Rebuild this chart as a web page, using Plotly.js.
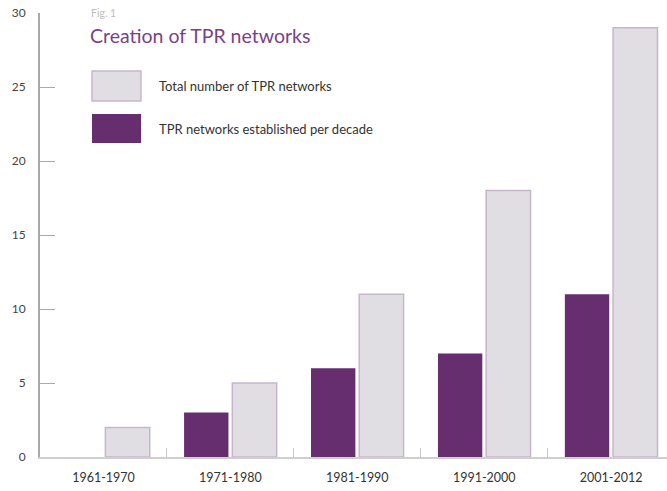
<!DOCTYPE html>
<html>
<head>
<meta charset="utf-8">
<script src="https://cdn.plot.ly/plotly-3.0.1.min.js"></script>
<style>html,body{margin:0;padding:0;background:#fff;}#chart{width:667px;height:491px;}</style>
</head>
<body>
<div id="chart"></div>
<script>
const decades = ["1961-1970", "1971-1980", "1981-1990", "1991-2000", "2001-2012"];
const perDecade = [0, 3, 6, 7, 11];
const totalNetworks = [2, 5, 11, 18, 29];
const yTicks = [0, 5, 10, 15, 20, 25, 30];

const purple = "#662d6f";
const grey = "#e1dee3";
const greyLine = "#c7b6cb";
const font = "Lato, 'Open Sans', sans-serif";

const data = [
  {type: "bar", x: decades, y: perDecade, name: "TPR networks established per decade",
   marker: {color: purple, line: {width: 0}}, hoverinfo: "x+y"},
  {type: "bar", x: decades, y: totalNetworks, name: "Total number of TPR networks",
   marker: {color: grey, line: {color: greyLine, width: 1.5}}, hoverinfo: "x+y"}
];

// pixel -> paper helpers for legend decoration
const L = 40, R = 0, T = 13, B = 34, W = 667, H = 491;
const pw = W - L - R, ph = H - T - B;
const px = v => (v - L) / pw;
const py = v => (H - B - v) / ph;

const layout = {
  width: W, height: H,
  margin: {l: L, r: R, t: T, b: B, pad: 0},
  paper_bgcolor: "#ffffff", plot_bgcolor: "#ffffff",
  showlegend: false,
  barmode: "group", bargap: 0.24, bargroupgap: 0.08,
  font: {family: font, color: "#333"},
  xaxis: {
    type: "category", range: [-0.5, 4.44],
    showline: true, linecolor: "#cfcfcf", linewidth: 2,
    ticks: "inside", tickson: "boundaries", ticklen: 9, tickcolor: "#c8c8c8", tickwidth: 1,
    tickfont: {family: font, size: 12.5, color: "#333"},
    ticklabelstandoff: 8,
    showgrid: false, zeroline: false, fixedrange: true
  },
  yaxis: {
    range: [0, 30], tickvals: yTicks, ticktext: yTicks.map(String),
    showline: true, linecolor: "#a9a9a9", linewidth: 2,
    ticks: "inside", ticklen: 15, tickcolor: "#aaaaaa", tickwidth: 1,
    tickfont: {family: font, size: 12, color: "#444"},
    ticklabelstandoff: 10,
    showgrid: false, zeroline: false, fixedrange: true
  },
  shapes: [
    {type: "rect", xref: "paper", yref: "paper", x0: px(92), x1: px(141), y0: py(101), y1: py(71),
     fillcolor: grey, line: {color: greyLine, width: 1.5}},
    {type: "rect", xref: "paper", yref: "paper", x0: px(92), x1: px(141), y0: py(143), y1: py(114),
     fillcolor: purple, line: {width: 0}}
  ],
  annotations: [
    {text: "Fig. 1", xref: "paper", yref: "paper", x: px(89), y: py(13), xanchor: "left", yanchor: "middle",
     showarrow: false, font: {family: font, size: 10.5, color: "#bdbdbd"}},
    {text: "Creation of TPR networks", xref: "paper", yref: "paper", x: px(88), y: py(35), xanchor: "left", yanchor: "middle",
     showarrow: false, font: {family: font, size: 19.5, color: "#7b3f8c"}},
    {text: "Total number of TPR networks", xref: "paper", yref: "paper", x: px(157), y: py(86), xanchor: "left", yanchor: "middle",
     showarrow: false, font: {family: font, size: 13, color: "#333"}},
    {text: "TPR networks established per decade", xref: "paper", yref: "paper", x: px(157), y: py(129), xanchor: "left", yanchor: "middle",
     showarrow: false, font: {family: font, size: 13, color: "#333"}}
  ]
};

Plotly.newPlot("chart", data, layout, {displayModeBar: false, staticPlot: true});
</script>
</body>
</html>
